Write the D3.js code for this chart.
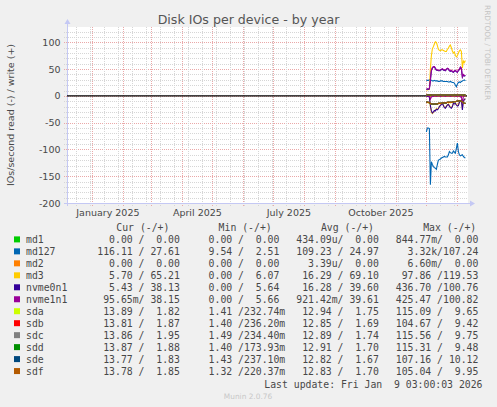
<!DOCTYPE html>
<html>
<head>
<meta charset="utf-8">
<script src="https://cdn.jsdelivr.net/npm/d3@7"></script>
<style>
  body { margin: 0; background: #f0f0f0; }
  text { font-family: "DejaVu Sans", sans-serif; fill: #484848; }
  .mono { font-family: "DejaVu Sans Mono", monospace; white-space: pre; font-size: 9.8px; }
</style>
</head>
<body>
<div id="container"></div>
<script>
/* CONSTANTS AND GLOBALS */
const width = 497,
  height = 407,
  plot = { left: 67, right: 467, top: 27, bottom: 203 };

// time window of the yearly graph (400 days ending at last update)
const timeStart = new Date(Date.UTC(2024, 11, 5, 3));
const timeEnd = new Date(Date.UTC(2026, 0, 9, 3));

/* DATA */
// one point per day, Dec 1 2025 .. Jan 9 2026
const days = d3.utcDay.range(new Date(Date.UTC(2025, 11, 1)), new Date(Date.UTC(2026, 0, 10)));

const md1Read  = [0,0,0,0,0,0,0,0,0,0,0,0,0,0,0,0,0,0,0,0,0,0,0,0,0,0,0,0,0,0,0,0,0,0,0,0,0,0,0,0];
const md1Write = [0,0,0,0,0,0,0,0,0,0,0,0,0,0,0,0,0,0,0,0,0,0,0,0,0,0,0,0,0,0,0,0,0,0,0,0,0,0,0,0];
const md127Read  = [67,60,60,61,166,123,128,132,134,135,137,128,120,119,118,116,115,114,113,114,114,114,110,104,106,107,107,103,105,107,98,88,104,110,112,111,110,113,115,116];
const md127Write = [29,29,29,30,31,29,28,28,29,28,28,28,27,27,28,28,28,27,27,27,27,27,26,26,27,26,25,25,24,20,17,22,25,26,25,27,28,29,30,28];
const md2Read  = [0,0,0,0,0,0,0,0,0,0,0,0,0,0,0,0,0,0,0,0,0,0,0,0,0,0,0,0,0,0,0,0,0,0,0,0,0,0,0,0];
const md2Write = [0,0,0,0,0,0,0,0,0,0,0,0,0,0,0,0,0,0,0,0,0,0,0,0,0,0,0,0,0,0,0,0,0,0,0,0,0,0,0,0];
const md3Read  = [1,1,1,2,20,30,33,31,28,27,24,25,23,20,17,15,14,17,21,22,19,17,15,18,21,22,19,14,14,13,16,18,17,11,9,8,24,9,6,6];
const md3Write = [11,11,12,12,50,75,88,92,97,101,100,94,87,85,84,86,86,85,84,83,83,87,89,93,95,90,84,80,82,76,73,75,80,84,86,83,52,65,62,66];
const nvme0n1Read  = [1,1,1,2,18,28,32,30,27,28,25,26,24,20,18,16,14,18,22,23,20,17,16,19,22,23,20,14,15,14,17,19,18,12,10,8,26,10,7,5];
const nvme0n1Write = [12,13,12,13,29,47,52,54,54,51,48,48,47,47,48,49,50,48,48,47,49,51,50,47,46,47,45,44,46,47,45,44,47,49,53,51,35,39,37,38];
const nvme1n1Read  = [0,0,0,0,6,2,1,1,0,0,1,0,0,0,1,0,0,0,0,1,0,0,0,0,1,0,0,0,0,0,1,0,0,0,2,1,14,1,0,0];
const nvme1n1Write = [13,13,13,14,30,48,53,55,55,52,49,49,48,48,49,50,51,49,49,48,50,52,51,48,47,48,46,45,47,48,46,45,48,50,54,52,36,40,38,38];
const sdaRead  = [11,12,13,13,14,15,15,16,15,15,15,15,14,14,14,14,13,13,14,13,13,12,12,12,13,12,12,11,11,11,10,10,10,9,9,10,11,13,14,14];
const sdaWrite = [1.8,1.8,1.9,1.8,1.9,1.9,1.8,1.8,1.8,1.8,1.7,1.8,1.8,1.8,1.7,1.7,1.7,1.8,1.7,1.7,1.7,1.7,1.7,1.7,1.7,1.6,1.7,1.7,1.7,1.6,1.7,1.7,1.7,1.7,1.7,1.7,1.8,1.8,1.8,1.8];
const sdbRead  = [11,12,12,13,14,15,15,15,15,15,15,15,14,14,14,14,13,13,13,13,13,12,12,12,12,12,12,11,11,11,10,10,9,9,9,10,11,13,14,14];
const sdbWrite = [1.8,1.8,1.8,1.8,1.9,1.8,1.8,1.8,1.7,1.7,1.7,1.7,1.7,1.7,1.7,1.7,1.6,1.7,1.7,1.6,1.7,1.7,1.7,1.6,1.6,1.7,1.7,1.6,1.7,1.6,1.6,1.7,1.7,1.7,1.7,1.7,1.8,1.8,1.9,1.9];
const sdcRead  = [11,12,12,13,14,15,16,15,15,15,15,15,14,14,14,14,13,13,13,13,13,12,12,12,12,12,12,11,11,11,10,10,9,9,10,10,11,13,14,14];
const sdcWrite = [1.8,1.9,1.9,1.9,1.9,1.9,1.8,1.8,1.8,1.8,1.8,1.8,1.8,1.7,1.7,1.7,1.7,1.7,1.8,1.7,1.7,1.7,1.7,1.7,1.7,1.7,1.7,1.7,1.7,1.7,1.7,1.7,1.8,1.7,1.7,1.8,1.8,1.9,1.9,2.0];
const sddRead  = [11,12,12,13,14,15,15,16,15,15,15,15,14,14,14,14,13,13,13,13,13,12,12,12,12,12,12,11,11,11,10,10,9,9,9,10,11,13,14,14];
const sddWrite = [1.8,1.8,1.8,1.8,1.9,1.9,1.8,1.8,1.8,1.7,1.7,1.7,1.7,1.7,1.7,1.7,1.7,1.7,1.7,1.7,1.7,1.7,1.7,1.7,1.7,1.7,1.6,1.7,1.7,1.7,1.7,1.7,1.7,1.7,1.7,1.7,1.8,1.8,1.9,1.9];
const sdeRead  = [11,12,12,13,14,15,15,15,15,15,15,15,14,14,14,14,13,13,13,13,13,12,12,12,12,12,12,11,11,11,10,10,9,9,9,10,11,13,14,14];
const sdeWrite = [1.8,1.8,1.8,1.8,1.9,1.8,1.8,1.7,1.7,1.7,1.7,1.7,1.7,1.7,1.6,1.7,1.7,1.7,1.6,1.7,1.7,1.6,1.7,1.7,1.6,1.7,1.7,1.6,1.6,1.7,1.6,1.7,1.7,1.7,1.7,1.7,1.8,1.8,1.8,1.8];
const sdfRead  = [11,12,12,13,14,15,15,15,15,15,15,15,14,14,14,14,13,13,13,13,13,12,12,12,12,12,12,11,11,11,10,10,9,9,9,10,11,13,14,14];
const sdfWrite = [1.8,1.8,1.8,1.8,1.9,1.8,1.8,1.8,1.7,1.7,1.7,1.7,1.7,1.7,1.7,1.7,1.7,1.7,1.7,1.6,1.7,1.7,1.7,1.7,1.7,1.7,1.6,1.7,1.7,1.6,1.7,1.7,1.7,1.7,1.7,1.7,1.8,1.8,1.8,1.9];

const deviceNames = ["md1", "md127", "md2", "md3", "nvme0n1", "nvme1n1", "sda", "sdb", "sdc", "sdd", "sde", "sdf"];
const deviceColors = ["#00cc00", "#0066b3", "#ff8000", "#ffcc00", "#330099", "#990099", "#ccff00", "#ff0000", "#808080", "#008f00", "#00487d", "#b35a00"];
const readSeries = [md1Read, md127Read, md2Read, md3Read, nvme0n1Read, nvme1n1Read, sdaRead, sdbRead, sdcRead, sddRead, sdeRead, sdfRead];
const writeSeries = [md1Write, md127Write, md2Write, md3Write, nvme0n1Write, nvme1n1Write, sdaWrite, sdbWrite, sdcWrite, sddWrite, sdeWrite, sdfWrite];

// legend columns as printed
const legendHeaders = ["Cur (-/+)", "Min (-/+)", "Avg (-/+)", "Max (-/+)"];
const legendCur = ["  0.00 /  0.00", "116.11 / 27.61", "  0.00 /  0.00", "  5.70 / 65.21", "  5.43 / 38.13", " 95.65m/ 38.15",
  " 13.89 /  1.82", " 13.81 /  1.87", " 13.86 /  1.95", " 13.87 /  1.88", " 13.77 /  1.83", " 13.78 /  1.85"];
const legendMin = ["  0.00 /  0.00", "  9.54 /  2.51", "  0.00 /  0.00", "  0.00 /  6.07", "  0.00 /  5.64", "  0.00 /  5.66",
  "  1.41 /232.74m", "  1.40 /236.20m", "  1.49 /234.40m", "  1.40 /173.93m", "  1.43 /237.10m", "  1.32 /220.37m"];
const legendAvg = ["434.09u/  0.00", "109.23 / 24.97", "  3.39u/  0.00", " 16.29 / 69.10", " 16.28 / 39.60", "921.42m/ 39.61",
  " 12.94 /  1.75", " 12.85 /  1.69", " 12.89 /  1.74", " 12.91 /  1.70", " 12.82 /  1.67", " 12.83 /  1.70"];
const legendMax = ["844.77m/  0.00", "  3.32k/107.24", "  6.60m/  0.00", " 97.86 /119.53", "436.70 /100.76", "425.47 /100.82",
  "115.09 /  9.65", "104.67 /  9.42", "115.56 /  9.75", "115.31 /  9.48", "107.16 / 10.12", "105.04 /  9.95"];

const yTicks = [-200, -150, -100, -50, 0, 50, 100];
const labelMonths = [new Date(Date.UTC(2025, 0, 1)), new Date(Date.UTC(2025, 3, 1)), new Date(Date.UTC(2025, 6, 1)), new Date(Date.UTC(2025, 9, 1))];

/* SCALES */
const xScale = d3.scaleUtc().domain([timeStart, timeEnd]).range([65.5, 465.5]);
const yScale = d3.scaleLinear().domain([-200, 128.7]).range([plot.bottom, plot.top]);

/* SVG */
const svg = d3.select("#container").append("svg")
  .attr("width", width)
  .attr("height", height)
  .style("display", "block");

svg.append("rect").attr("width", width).attr("height", height).attr("fill", "#f0f0f0");
svg.append("rect")
  .attr("x", plot.left).attr("y", plot.top)
  .attr("width", plot.right - plot.left + 1).attr("height", plot.bottom - plot.top)
  .attr("fill", "#fff");

// title
svg.append("text")
  .attr("x", 248.5).attr("y", 24)
  .attr("text-anchor", "middle")
  .style("font-size", "12.6px")
  .style("fill", "#555")
  .text("Disk IOs per device - by year");

// vertical watermark
svg.append("text")
  .attr("transform", "translate(484.5,5) rotate(90)")
  .style("font-size", "7.4px")
  .style("fill", "#c4c4c4")
  .text("RRDTOOL / TOBI OETIKER");

// y axis title
svg.append("text")
  .attr("transform", "translate(13.5,115) rotate(-90)")
  .attr("text-anchor", "middle")
  .style("font-size", "9.5px")
  .text("IOs/second read (-) / write (+)");

/* GRID */
const grid = svg.append("g").attr("shape-rendering", "crispEdges");

// horizontal: minor every 10, major every 50
const hLines = d3.range(-200, 130, 10);
grid.selectAll("line.h")
  .data(hLines)
  .join("line")
  .attr("class", "h")
  .attr("x1", plot.left - 3).attr("x2", plot.right)
  .attr("y1", d => Math.round(yScale(d)) + 0.5)
  .attr("y2", d => Math.round(yScale(d)) + 0.5)
  .attr("stroke", d => d % 50 === 0 ? "#eaa8a8" : "#d6d6d6")
  .attr("stroke-dasharray", "1,1");

// vertical minor: every second monday
const minorDays = d3.utcMonday.range(new Date(Date.UTC(2024, 11, 16)), timeEnd).filter((d, i) => i % 2 === 0);
grid.selectAll("line.vm")
  .data(minorDays)
  .join("line")
  .attr("class", "vm")
  .attr("x1", d => Math.round(xScale(d)) + 0.5)
  .attr("x2", d => Math.round(xScale(d)) + 0.5)
  .attr("y1", plot.top).attr("y2", plot.bottom + 3)
  .attr("stroke", "#d6d6d6")
  .attr("stroke-dasharray", "1,1");

// vertical major: every month
const months = d3.utcMonth.range(timeStart, timeEnd);
grid.selectAll("line.vM")
  .data(months)
  .join("line")
  .attr("class", "vM")
  .attr("x1", d => Math.round(xScale(d)) + 0.5)
  .attr("x2", d => Math.round(xScale(d)) + 0.5)
  .attr("y1", plot.top).attr("y2", plot.bottom + 3)
  .attr("stroke", "#eaa8a8")
  .attr("stroke-dasharray", "1,1");

/* AXES */
const axisColor = "#c4c8f4";
svg.append("line")
  .attr("x1", plot.left + 0.5).attr("x2", plot.left + 0.5)
  .attr("y1", plot.bottom + 3).attr("y2", plot.top - 4)
  .attr("stroke", axisColor);
svg.append("path")
  .attr("d", `M${plot.left - 2.5},${plot.top - 3} L${plot.left + 3.5},${plot.top - 3} L${plot.left + 0.5},${plot.top - 8} Z`)
  .attr("fill", axisColor);
svg.append("line")
  .attr("x1", plot.left - 3).attr("x2", plot.right + 4)
  .attr("y1", plot.bottom + 0.5).attr("y2", plot.bottom + 0.5)
  .attr("stroke", axisColor);
svg.append("path")
  .attr("d", `M${plot.right + 3},${plot.bottom - 2.5} L${plot.right + 3},${plot.bottom + 3.5} L${plot.right + 8},${plot.bottom + 0.5} Z`)
  .attr("fill", axisColor);

// y tick labels
svg.selectAll("text.ytick")
  .data(yTicks)
  .join("text")
  .attr("class", "ytick")
  .attr("x", 60.5)
  .attr("y", d => yScale(d) + 3.5)
  .attr("text-anchor", "end")
  .style("font-size", "9.5px")
  .text(d => d);

// x labels centered in their month
svg.selectAll("text.xtick")
  .data(labelMonths)
  .join("text")
  .attr("class", "xtick")
  .attr("x", d => (xScale(d) + xScale(d3.utcMonth.offset(d, 1))) / 2)
  .attr("y", 216)
  .attr("text-anchor", "middle")
  .style("font-size", "9.5px")
  .text(d => d3.utcFormat("%B %Y")(d));

// zero line
svg.append("line")
  .attr("x1", plot.left).attr("x2", plot.right)
  .attr("y1", yScale(0)).attr("y2", yScale(0))
  .attr("stroke", "#000")
  .attr("stroke-width", 1.2);

/* LINES */
const lines = svg.append("g");
const lineGen = d3.line()
  .x((d, i) => xScale(days[i]))
  .y(d => yScale(d));

deviceNames.forEach((name, k) => {
  lines.append("path")
    .datum(readSeries[k].map(v => -v))
    .attr("d", lineGen)
    .attr("fill", "none")
    .attr("stroke", deviceColors[k])
    .attr("stroke-width", 1.1);
  lines.append("path")
    .datum(writeSeries[k])
    .attr("d", lineGen)
    .attr("fill", "none")
    .attr("stroke", deviceColors[k])
    .attr("stroke-width", 1.1);
});

/* LEGEND */
const colStart = [97.3, 196.8, 296.3, 395.8];
const rowY = i => 243 + i * 11.97;

svg.selectAll("text.head")
  .data(legendHeaders)
  .join("text")
  .attr("class", "head mono")
  .attr("x", (d, i) => 116.3 + i * 102.3)
  .attr("y", 231)
  .text(d => d);

const rows = svg.selectAll("g.row")
  .data(deviceNames)
  .join("g")
  .attr("class", "row")
  .attr("transform", (d, i) => `translate(0,${rowY(i)})`);

rows.append("rect")
  .attr("x", 14).attr("y", -6.6)
  .attr("width", 6).attr("height", 6)
  .attr("fill", (d, i) => deviceColors[i]);

rows.append("text")
  .attr("class", "mono")
  .attr("x", 26)
  .text(d => d);

[legendCur, legendMin, legendAvg, legendMax].forEach((col, c) => {
  rows.append("text")
    .attr("class", "mono")
    .attr("x", colStart[c])
    .text((d, i) => col[i]);
});

svg.append("text")
  .attr("class", "mono")
  .attr("x", 482.5)
  .attr("y", 387.5)
  .attr("text-anchor", "end")
  .text("Last update: Fri Jan  9 03:00:03 2026");

svg.append("text")
  .attr("x", 248).attr("y", 399)
  .attr("text-anchor", "middle")
  .style("font-size", "7.4px")
  .style("fill", "#c8c8c8")
  .text("Munin 2.0.76");
</script>
</body>
</html>
